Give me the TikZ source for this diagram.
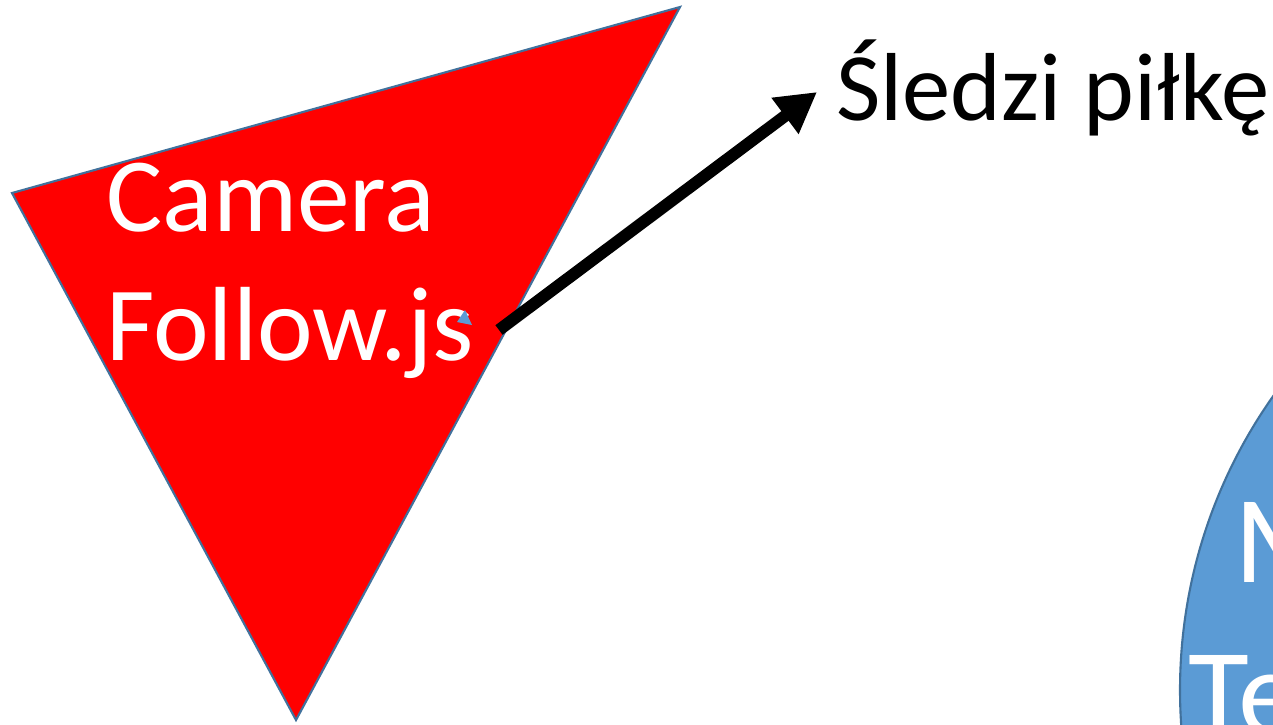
\documentclass[tikz,border=0pt]{standalone}
\usepackage{fontspec}
\setmainfont{Carlito}
\usetikzlibrary{arrows.meta}
\definecolor{edgeblue}{HTML}{41719C}
\definecolor{ballblue}{HTML}{5B9BD5}
\tikzset{
  bigtext/.style={font=\fontsize{60}{73}\selectfont, inner sep=0pt},
  shape edge/.style={draw=edgeblue, line width=1.2pt, line join=miter},
}
\begin{document}
\begin{tikzpicture}[x=0.02cm, y=-0.02cm]
        \useasboundingbox (0,0) rectangle (1273,724);
        \clip (0,0) rectangle (1273,724);

        % Camera triangle (red)
        \coordinate (camL) at (12,193);
        \coordinate (camR) at (680,7);
        \coordinate (camB) at (296,720);
        \draw[shape edge, fill=red] (camL) -- (camR) -- (camB) -- cycle;
        \node[bigtext, white, align=left, anchor=base west] (camtext) at (106,360) {Camera\\Follow.js};

        % Small blue mark
        \fill[ballblue] (457,322) -- (465,310) -- (472,325) -- cycle;

        % Ball (blue circle, cut at the right edge)
        \draw[shape edge, fill=ballblue] (1690,690) circle (510);
        \node[font=\fontsize{71}{86}\selectfont, inner sep=0pt, white, anchor=base west] (ballM) at (1234,582) {M};
        \node[font=\fontsize{71}{86}\selectfont, inner sep=0pt, white, anchor=base west] (ballTe) at (1188,735) {Te};

        % Follow arrow
        \node[bigtext, font=\fontsize{55}{66}\selectfont, anchor=base west] (follow) at (836,120) {Śledzi piłkę};
        \coordinate (arrstart) at (499,330);
        \coordinate (arrtip) at (817,92);
        \draw[-{Triangle[length=0.8cm, width=0.85cm]}, line width=0.24cm] (arrstart) -- (arrtip);
    \end{tikzpicture}
\end{document}
